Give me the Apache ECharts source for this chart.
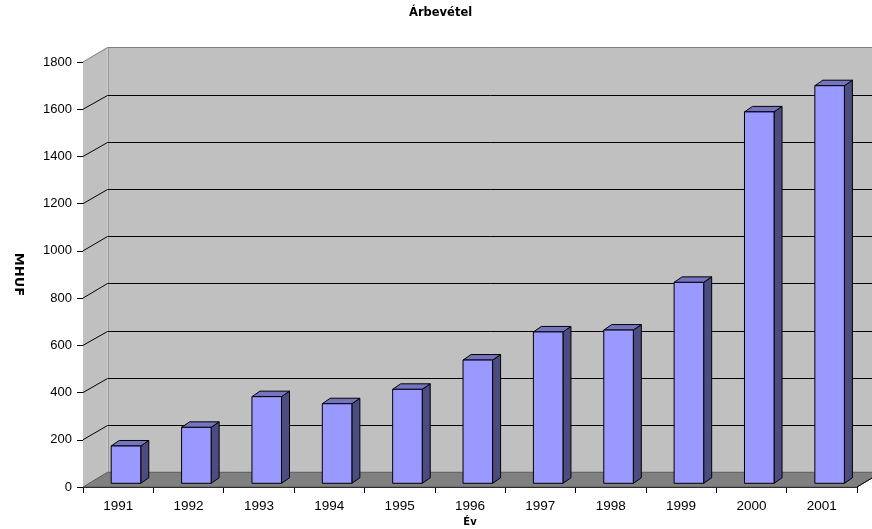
<!DOCTYPE html>
<html><head><meta charset="utf-8">
<script src="https://cdn.jsdelivr.net/npm/echarts@6/dist/echarts.min.js"></script>
<style>html,body{margin:0;padding:0;background:#fff}#c{width:872px;height:529px}</style>
</head><body><div id="c"></div>
<script>
const categories = ['1991','1992','1993','1994','1995','1996','1997','1998','1999','2000','2001'];
const revenue = [158, 237, 367, 337, 398, 522, 641, 649, 851, 1573, 1684];
const yTicks = [0, 200, 400, 600, 800, 1000, 1200, 1400, 1600, 1800];
const titleText = 'Árbevétel';
const xName = 'Év';
const yName = 'MHUF';

const DX = 24.5, DY = -14.7;      // depth of the 3D walls
const BX = 8, BY = -5.5;          // depth of each bar
const FY = -3.7;                  // bar front face offset from front plane

const chart = echarts.init(document.getElementById('c'), null, {renderer: 'canvas'});

function px(v) { return Math.round(v) + 0.5; }

function renderWalls(params, api) {
  const cs = params.coordSys;
  const x0 = cs.x, x1 = cs.x + cs.width;
  const yB = api.coord([0, yTicks[0]])[1];
  const yT = api.coord([0, yTicks[yTicks.length - 1]])[1];
  const ch = [];
  ch.push({type: 'polygon', shape: {points: [[x0, yB], [x0, yT], [x0 + DX, yT + DY], [x0 + DX, yB + DY]]}, style: {fill: '#c0c0c0'}});
  ch.push({type: 'rect', shape: {x: x0 + DX, y: yT + DY, width: cs.width + 40, height: yB - yT}, style: {fill: '#c0c0c0'}});
  ch.push({type: 'line', shape: {x1: px(x0 + DX), y1: yT + DY, x2: px(x0 + DX), y2: yB + DY}, style: {stroke: '#969696', lineWidth: 1}});
  yTicks.forEach((v, i) => {
    if (i === 0) return;
    const y = api.coord([0, v])[1];
    const top = i === yTicks.length - 1;
    const col = top ? '#808080' : '#000';
    ch.push({type: 'polyline', shape: {points: [[x0, y], [x0 + DX, px(y + DY)], [x1 + DX + 40, px(y + DY)]]}, style: {stroke: col, lineWidth: 1, fill: null}});
  });
  ch.push({type: 'polygon', shape: {points: [[x0, yB], [x1, yB], [x1 + DX, yB + DY], [x0 + DX, yB + DY]]}, style: {fill: '#808080', stroke: '#5a5a5a', lineWidth: 1}});
  ch.push({type: 'line', shape: {x1: x1, y1: yB, x2: x1 + DX, y2: yB + DY}, style: {stroke: '#000', lineWidth: 1}});
  return {type: 'group', children: ch};
}

function renderBar(params, api) {
  const i = api.value(0), v = api.value(1);
  const base = api.coord([i, 0]);
  const topP = api.coord([i, v]);
  const cw = api.size([1, 0])[0];
  const w = cw * 0.42;
  const ox = cw * 0.111;
  const xl = base[0] + ox - w / 2, xr = xl + w;
  const yb = base[1] + FY, yt = topP[1] + FY;
  const st = {stroke: '#000', lineWidth: 1};
  return {type: 'group', children: [
    {type: 'polygon', shape: {points: [[xr, yt], [xr + BX, yt + BY], [xr + BX, yb + BY], [xr, yb]]}, style: Object.assign({fill: '#4c4c80'}, st)},
    {type: 'polygon', shape: {points: [[xl, yt], [xl + BX, yt + BY], [xr + BX, yt + BY], [xr, yt]]}, style: Object.assign({fill: '#7474c0'}, st)},
    {type: 'rect', shape: {x: xl, y: yt, width: w, height: yb - yt}, style: Object.assign({fill: '#9999ff'}, st)}
  ]};
}

chart.setOption({
  animation: false,
  backgroundColor: '#fff',
  title: {
    text: titleText, left: 409, top: 7, padding: 0,
    textStyle: {fontFamily: 'DejaVu Sans', fontWeight: 'bold', fontSize: 11.5, color: '#000'}
  },
  grid: {left: 83, top: 62, width: 774, height: 425, containLabel: false, outerBoundsMode: 'none'},
  xAxis: {
    type: 'category', data: categories, boundaryGap: true,
    name: xName, nameLocation: 'middle', nameGap: 24,
    nameTextStyle: {fontFamily: 'DejaVu Sans', fontWeight: 'bold', fontSize: 10, color: '#000'},
    axisLine: {lineStyle: {color: '#000', width: 1}},
    axisTick: {show: true, length: 6, alignWithLabel: false, lineStyle: {color: '#000'}},
    axisLabel: {margin: 12, fontFamily: 'Liberation Sans', fontSize: 13.5, color: '#000'},
    splitLine: {show: false}
  },
  yAxis: {
    type: 'value', min: 0, max: 1800, interval: 200,
    name: yName, nameLocation: 'middle', nameGap: 58, nameRotate: -90,
    nameTextStyle: {fontFamily: 'DejaVu Sans', fontWeight: 'bold', fontSize: 13, color: '#000'},
    axisLine: {show: true, lineStyle: {color: '#000', width: 1}},
    axisTick: {show: true, length: 6, lineStyle: {color: '#000'}},
    axisLabel: {margin: 11, fontFamily: 'Liberation Sans', fontSize: 13, color: '#000', formatter: v => String(v)},
    splitLine: {show: false}
  },
  series: [
    {type: 'custom', z: 1, silent: true, renderItem: renderWalls, data: [[0, 0]], clip: false},
    {type: 'custom', z: 2, renderItem: renderBar, data: revenue.map((v, i) => [i, v]), clip: false}
  ]
});
</script></body></html>
